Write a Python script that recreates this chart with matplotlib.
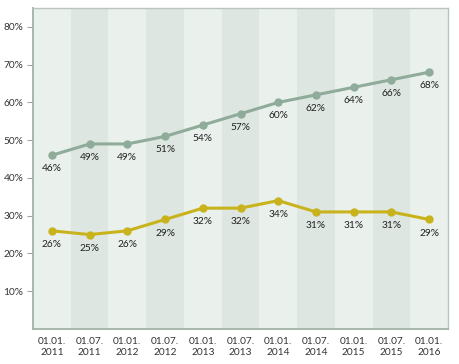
import matplotlib
matplotlib.use("Agg")
import matplotlib.pyplot as plt

#------------------------------------------------------------------------------
# data

dates = ["01.01.\n2011", "01.07.\n2011", "01.01.\n2012", "01.07.\n2012",
         "01.01.\n2013", "01.07.\n2013", "01.01.\n2014", "01.07.\n2014",
         "01.01.\n2015", "01.07.\n2015", "01.01.\n2016"]
upper = [46, 49, 49, 51, 54, 57, 60, 62, 64, 66, 68]
lower = [26, 25, 26, 29, 32, 32, 34, 31, 31, 31, 29]
yticks = [10, 20, 30, 40, 50, 60, 70, 80]

#------------------------------------------------------------------------------

plt.rcParams['font.family'] = ['Lato', 'DejaVu Sans']

fig = plt.figure(figsize=(4.6, 3.64), dpi=100)
ax = fig.add_axes([33/460, 1 - 329/364, 415/460, 321/364])

x = list(range(len(dates)))

# alternating column bands
for i in x:
    ax.axvspan(i - 0.5, i + 0.5, color="#eaf0ec" if i % 2 == 0 else "#dde6e0",
               lw=0, zorder=0)

ax.plot(x, upper, color="#8fab9a", lw=2.2, marker="o", ms=5, zorder=3)
ax.plot(x, lower, color="#c9b31c", lw=2.2, marker="o", ms=5, zorder=3)

for xi, v in zip(x, upper):
    ax.annotate(f"{v}%", (xi, v), xytext=(0, -6.5), textcoords="offset points",
                ha="center", va="top", fontsize=7.3, color="#222222")
for xi, v in zip(x, lower):
    ax.annotate(f"{v}%", (xi, v), xytext=(0, -6.5), textcoords="offset points",
                ha="center", va="top", fontsize=7.3, color="#222222")

ax.set_xlim(-0.5, len(dates) - 0.5)
ax.set_ylim(0, 85)
ax.set_xticks(x)
ax.set_xticklabels(dates, fontsize=7.3, color="#333333", linespacing=1.3)
ax.set_yticks(yticks)
ax.set_yticklabels([f"{t}%" for t in yticks], fontsize=7.3, color="#333333")
ax.tick_params(axis="x", length=0, pad=6)
ax.tick_params(axis="y", length=4, color="#9aa89e", pad=3)

for side in ["left", "bottom"]:
    ax.spines[side].set_color("#a3b3a8")
    ax.spines[side].set_linewidth(1.3)
for side in ["top", "right"]:
    ax.spines[side].set_color("#b9c6bd")
    ax.spines[side].set_linewidth(1.0)

fig.savefig("out.png", dpi=100, facecolor="white")
